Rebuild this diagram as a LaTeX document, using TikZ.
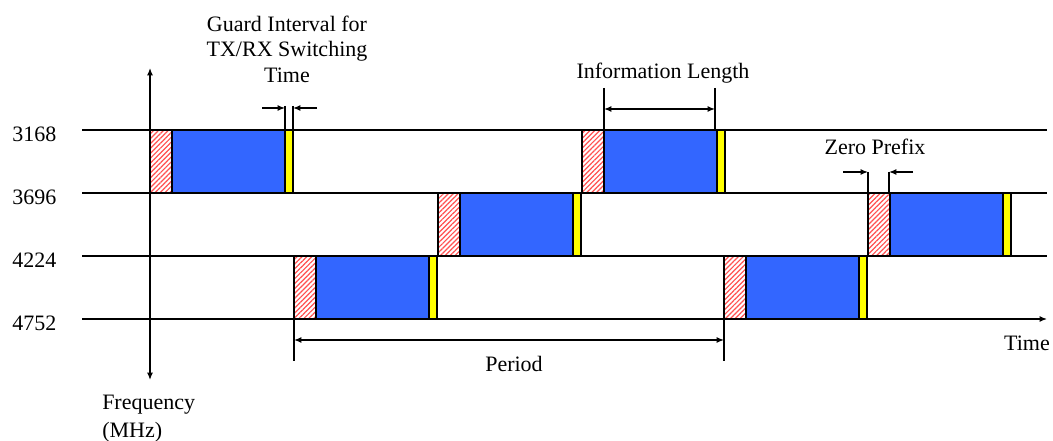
\documentclass[tikz,border=0pt]{standalone}
\usepackage{fontspec}
\setmainfont{Liberation Serif}
\usetikzlibrary{arrows.meta,patterns.meta}
\definecolor{blkblue}{RGB}{51,102,255}
\definecolor{blkyel}{RGB}{255,255,0}
\definecolor{hatchred}{RGB}{255,80,80}
\newcommand\tfslot[2]{%
  \draw[hatchbox] (#1,#2) rectangle (#1+22,#2+63);
  \draw[blockline,fill=blkblue] (#1+22,#2) rectangle (#1+135,#2+63);
  \draw[blockline,fill=blkyel] (#1+135,#2) rectangle (#1+143,#2+63);
}
\begin{document}
\begin{tikzpicture}[x=0.75pt,y=-0.75pt,
  font=\fontsize{16.5}{19}\selectfont,
  txt/.style={inner sep=0pt},
  axisline/.style={line width=1pt},
  blockline/.style={draw=black,line width=1.7pt},
  hatchbox/.style={blockline,preaction={fill=white},
    pattern={Lines[angle=45,distance=2.6pt,line width=0.9pt]},pattern color=hatchred},
  tip/.style={-{Latex[length=5.5pt,width=4.5pt]}},
  tipboth/.style={{Latex[length=5.5pt,width=4.5pt]}-{Latex[length=5.5pt,width=4.5pt]}}]
\useasboundingbox (0,0) rectangle (1053,441);

% frequency rows
\coordinate (l1s) at (82,130);  \coordinate (l1e) at (1047,130);
\coordinate (l2s) at (82,193);  \coordinate (l2e) at (1047,193);
\coordinate (l3s) at (82,256);  \coordinate (l3e) at (1047,256);
\coordinate (l4s) at (82,319);  \coordinate (l4e) at (1047,319);
\draw[axisline] (l1s) -- (l1e);
\draw[axisline] (l2s) -- (l2e);
\draw[axisline] (l3s) -- (l3e);
\draw[axisline,tip] (l4s) -- (l4e);

% frequency axis
\coordinate (fbot) at (150,380);
\coordinate (ftop) at (150,68);
\draw[axisline,tipboth] (fbot) -- (ftop);

% blocks
\tfslot{150}{130}
\tfslot{294}{256}
\tfslot{438}{193}
\tfslot{582}{130}
\tfslot{724}{256}
\tfslot{868}{193}

% labels
\node[txt,anchor=base west] (f1) at (12,142) {3168};
\node[txt,anchor=base west] (f2) at (12,205) {3696};
\node[txt,anchor=base west] (f3) at (12,268) {4224};
\node[txt,anchor=base west] (f4) at (12,331) {4752};

% guard interval
\node[txt,anchor=base] (g1) at (287,32) {Guard Interval for};
\node[txt,anchor=base] (g2) at (287,57) {TX/RX Switching};
\node[txt,anchor=base] (g3) at (287,83) {Time};
\coordinate (ga) at (285,106); \coordinate (gaa) at (285,130);
\coordinate (gb) at (293,106); \coordinate (gbb) at (293,130);
\draw[axisline] (ga) -- (gaa);
\draw[axisline] (gb) -- (gbb);
\coordinate (gl) at (262,108); \coordinate (glt) at (285,108);
\coordinate (gr) at (317,108); \coordinate (grt) at (293,108);
\draw[axisline,tip] (gl) -- (glt);
\draw[axisline,tip] (gr) -- (grt);

% information length
\node[txt,anchor=base] (info) at (663,79) {Information Length};
\coordinate (ia) at (604,88); \coordinate (iaa) at (604,130);
\coordinate (ib) at (715,88); \coordinate (ibb) at (715,130);
\draw[axisline] (ia) -- (iaa);
\draw[axisline] (ib) -- (ibb);
\coordinate (il) at (604,109); \coordinate (ir) at (715,109);
\draw[axisline,tipboth] (il) -- (ir);

% zero prefix
\node[txt,anchor=base] (zp) at (875,155) {Zero Prefix};
\coordinate (za) at (868,172); \coordinate (zaa) at (868,193);
\coordinate (zb) at (889,172); \coordinate (zbb) at (889,193);
\draw[axisline] (za) -- (zaa);
\draw[axisline] (zb) -- (zbb);
\coordinate (zl) at (843,172);
\coordinate (zr) at (913,172);
\draw[axisline,tip] (zl) -- (za);
\draw[axisline,tip] (zr) -- (zb);

% period
\coordinate (pa) at (294,319); \coordinate (paa) at (294,361);
\coordinate (pb) at (724,319); \coordinate (pbb) at (724,361);
\draw[axisline] (pa) -- (paa);
\draw[axisline] (pb) -- (pbb);
\coordinate (pl) at (294,340); \coordinate (pr) at (724,340);
\draw[axisline,tipboth] (pl) -- (pr);
\node[txt,anchor=base] (per) at (514,372) {Period};

% axis titles
\node[txt,anchor=base] (time) at (1027,351) {Time};
\node[txt,anchor=base west] (fr1) at (102,410) {Frequency};
\node[txt,anchor=base west] (fr2) at (102,437) {(MHz)};
\end{tikzpicture}
\end{document}
